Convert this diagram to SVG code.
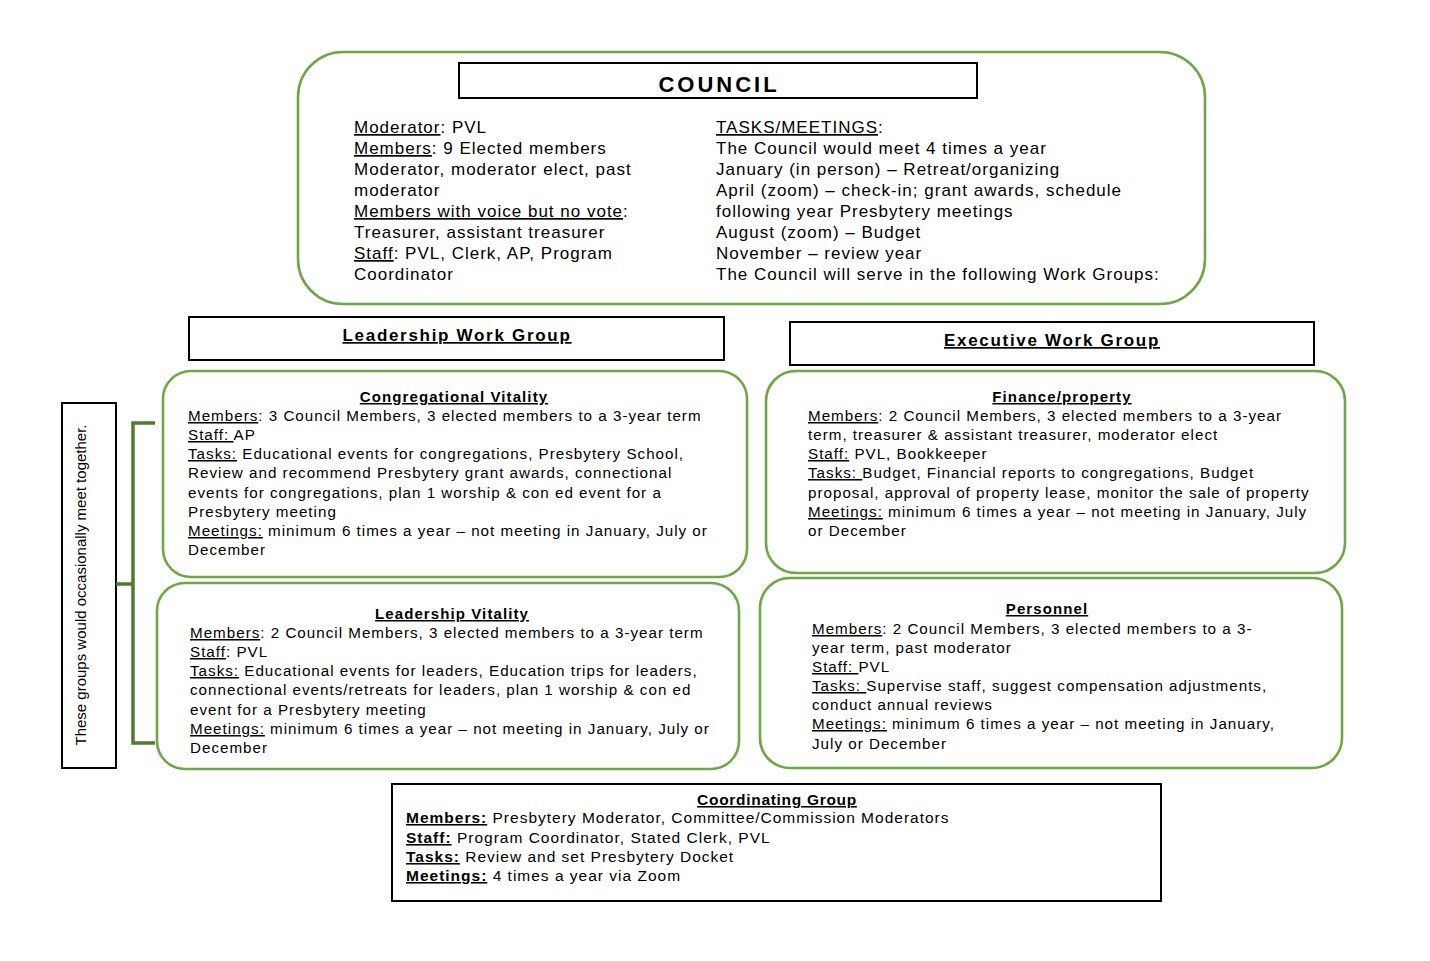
<svg xmlns="http://www.w3.org/2000/svg" width="1430" height="961" viewBox="0 0 1430 961">
<style>
.g{fill:#fff;stroke:#6fa64a;stroke-width:2.6}
.b{fill:#fff;stroke:#000;stroke-width:2}
text{font-family:"Liberation Sans",Arial,sans-serif;fill:#000}
.c{font-size:17px;letter-spacing:1px}
.s{font-size:15.2px;letter-spacing:1px}
.h{font-size:17px;font-weight:bold;letter-spacing:1.7px;text-decoration:underline}
.t{font-size:15px;font-weight:bold;letter-spacing:1.1px;text-decoration:underline}
.k{font-size:15.5px;letter-spacing:1px}
.kb{font-weight:bold}
.u{text-decoration:underline}
.side{font-size:15px}
.br{fill:none;stroke:#4d7c32;stroke-width:3.5}
</style>
<rect width="1430" height="961" fill="#fff"/>

<g id="council">
<rect class="g" x="298" y="52" width="907" height="252" rx="45"/>
<rect class="b" x="459" y="63" width="518" height="35"/>
<text x="719" y="92" text-anchor="middle" style="font-size:22px;font-weight:bold;letter-spacing:3px">COUNCIL</text>
<text class="c" x="354" y="133"><tspan class="u">Moderator</tspan>: PVL</text>
<text class="c" x="354" y="154"><tspan class="u">Members</tspan>: 9 Elected members</text>
<text class="c" x="354" y="175">Moderator, moderator elect, past</text>
<text class="c" x="354" y="196">moderator</text>
<text class="c" x="354" y="217"><tspan class="u">Members with voice but no vote</tspan>:</text>
<text class="c" x="354" y="238">Treasurer, assistant treasurer</text>
<text class="c" x="354" y="259"><tspan class="u">Staff</tspan>: PVL, Clerk, AP, Program</text>
<text class="c" x="354" y="280">Coordinator</text>
<text class="c" x="716" y="133"><tspan class="u">TASKS/MEETINGS</tspan>:</text>
<text class="c" x="716" y="154">The Council would meet 4 times a year</text>
<text class="c" x="716" y="175">January (in person) – Retreat/organizing</text>
<text class="c" x="716" y="196">April (zoom) – check-in; grant awards, schedule</text>
<text class="c" x="716" y="217">following year Presbytery meetings</text>
<text class="c" x="716" y="238">August (zoom) – Budget</text>
<text class="c" x="716" y="259">November – review year</text>
<text class="c" x="716" y="280">The Council will serve in the following Work Groups:</text>
</g>

<g id="leadership-work-group">
<rect class="b" x="189" y="317" width="535" height="43"/>
<text class="h" x="457" y="341" text-anchor="middle">Leadership Work Group</text>
</g>

<g id="executive-work-group">
<rect class="b" x="790" y="322" width="524" height="43"/>
<text class="h" x="1052" y="346" text-anchor="middle">Executive Work Group</text>
</g>

<g id="congregational-vitality">
<rect class="g" x="163" y="371" width="584" height="206" rx="28"/>
<text class="t" x="454" y="402" text-anchor="middle">Congregational Vitality</text>
<text class="s" x="188" y="421"><tspan class="u">Members</tspan>: 3 Council Members, 3 elected members to a 3-year term</text>
<text class="s" x="188" y="440"><tspan class="u">Staff: </tspan>AP</text>
<text class="s" x="188" y="459"><tspan class="u">Tasks:</tspan> Educational events for congregations, Presbytery School,</text>
<text class="s" x="188" y="478">Review and recommend Presbytery grant awards, connectional</text>
<text class="s" x="188" y="498">events for congregations, plan 1 worship &amp; con ed event for a</text>
<text class="s" x="188" y="517">Presbytery meeting</text>
<text class="s" x="188" y="536"><tspan class="u">Meetings:</tspan> minimum 6 times a year – not meeting in January, July or</text>
<text class="s" x="188" y="555">December</text>
</g>

<g id="leadership-vitality">
<rect class="g" x="157" y="583" width="582" height="186" rx="28"/>
<text class="t" x="452" y="619" text-anchor="middle">Leadership Vitality</text>
<text class="s" x="190" y="638"><tspan class="u">Members</tspan>: 2 Council Members, 3 elected members to a 3-year term</text>
<text class="s" x="190" y="657"><tspan class="u">Staff</tspan>: PVL</text>
<text class="s" x="190" y="676"><tspan class="u">Tasks:</tspan> Educational events for leaders, Education trips for leaders,</text>
<text class="s" x="190" y="695">connectional events/retreats for leaders, plan 1 worship &amp; con ed</text>
<text class="s" x="190" y="715">event for a Presbytery meeting</text>
<text class="s" x="190" y="734"><tspan class="u">Meetings:</tspan> minimum 6 times a year – not meeting in January, July or</text>
<text class="s" x="190" y="753">December</text>
</g>

<g id="finance-property">
<rect class="g" x="766" y="371" width="579" height="202" rx="30"/>
<text class="t" x="1062" y="402" text-anchor="middle">Finance/property</text>
<text class="s" x="808" y="421"><tspan class="u">Members</tspan>: 2 Council Members, 3 elected members to a 3-year</text>
<text class="s" x="808" y="440">term, treasurer &amp; assistant treasurer, moderator elect</text>
<text class="s" x="808" y="459"><tspan class="u">Staff:</tspan> PVL, Bookkeeper</text>
<text class="s" x="808" y="478"><tspan class="u">Tasks: </tspan>Budget, Financial reports to congregations, Budget</text>
<text class="s" x="808" y="498">proposal, approval of property lease, monitor the sale of property</text>
<text class="s" x="808" y="517"><tspan class="u">Meetings:</tspan> minimum 6 times a year – not meeting in January, July</text>
<text class="s" x="808" y="536">or December</text>
</g>

<g id="personnel">
<rect class="g" x="760" y="578" width="582" height="190" rx="30"/>
<text class="t" x="1047" y="614" text-anchor="middle">Personnel</text>
<text class="s" x="812" y="634"><tspan class="u">Members</tspan>: 2 Council Members, 3 elected members to a 3-</text>
<text class="s" x="812" y="653">year term, past moderator</text>
<text class="s" x="812" y="672"><tspan class="u">Staff: </tspan>PVL</text>
<text class="s" x="812" y="691"><tspan class="u">Tasks: </tspan>Supervise staff, suggest compensation adjustments,</text>
<text class="s" x="812" y="710">conduct annual reviews</text>
<text class="s" x="812" y="729"><tspan class="u">Meetings:</tspan> minimum 6 times a year – not meeting in January,</text>
<text class="s" x="812" y="749">July or December</text>
</g>

<g id="coordinating-group">
<rect class="b" x="392" y="784" width="769" height="117"/>
<text x="777" y="805" text-anchor="middle" style="font-size:15.5px;font-weight:bold;letter-spacing:0.7px;text-decoration:underline">Coordinating Group</text>
<text class="k" x="406" y="823"><tspan class="kb u">Members:</tspan> Presbytery Moderator, Committee/Commission Moderators</text>
<text class="k" x="406" y="843"><tspan class="kb u">Staff:</tspan> Program Coordinator, Stated Clerk, PVL</text>
<text class="k" x="406" y="862"><tspan class="kb u">Tasks:</tspan> Review and set Presbytery Docket</text>
<text class="k" x="406" y="881"><tspan class="kb u">Meetings:</tspan> 4 times a year via Zoom</text>
</g>

<g id="side-note">
<rect class="b" x="62" y="403" width="54" height="365"/>
<text class="side" transform="translate(86,585) rotate(-90)" text-anchor="middle">These groups would occasionally meet together.</text>
</g>

<g id="connectors">
<path class="br" d="M155,423 L133,423 L133,743 L155,743 M116,584 L133,584"/>
</g>
</svg>
